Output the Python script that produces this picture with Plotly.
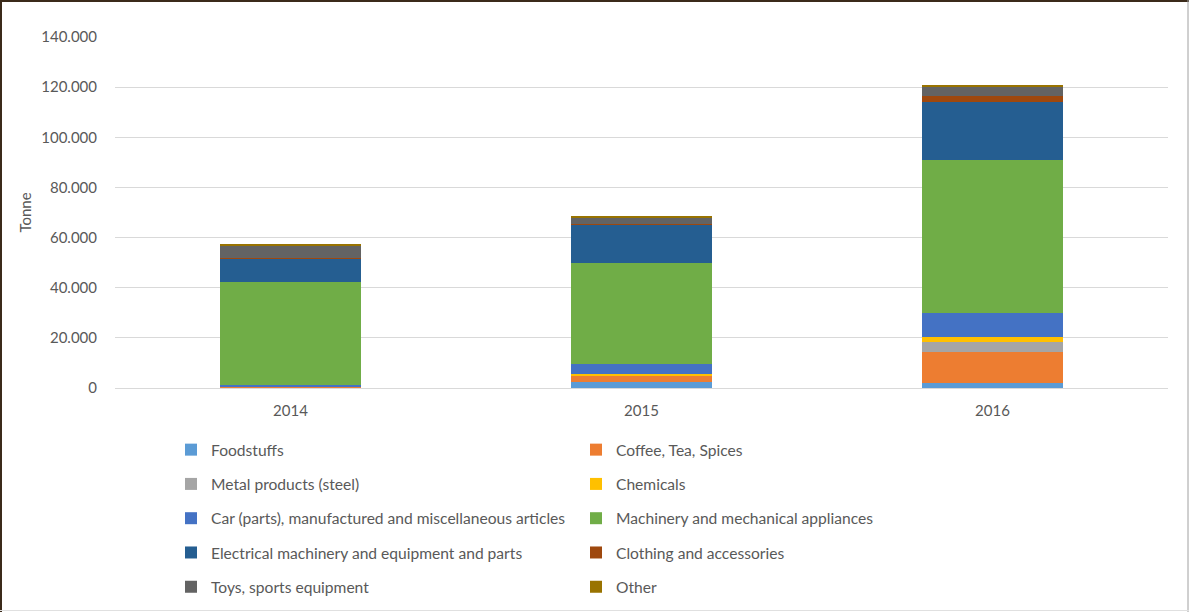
import plotly.graph_objects as go

years = ["2014", "2015", "2016"]
series_names = [
    "Foodstuffs", "Coffee, Tea, Spices", "Metal products (steel)", "Chemicals",
    "Car (parts), manufactured and miscellaneous articles",
    "Machinery and mechanical appliances",
    "Electrical machinery and equipment and parts",
    "Clothing and accessories", "Toys, sports equipment", "Other",
]
foodstuffs = [300, 2500, 1900]
coffee_tea_spices = [100, 2400, 12300]
metal_products = [100, 200, 4300]
chemicals = [100, 500, 1700]
car_parts = [500, 4000, 9600]
machinery = [41100, 40400, 61100]
electrical = [9500, 15400, 23300]
clothing = [100, 100, 2300]
toys = [5000, 2400, 3700]
other = [300, 700, 500]

values = [foodstuffs, coffee_tea_spices, metal_products, chemicals, car_parts,
          machinery, electrical, clothing, toys, other]
colors = ["#5B9BD5", "#ED7D31", "#A5A5A5", "#FFC000", "#4472C4",
          "#70AD47", "#255E91", "#9E480E", "#636363", "#997300"]

W, H = 1189, 612
L, R, T, B = 115, 21, 37, 224
pw, ph = W - L - R, H - T - B

def px(x):
    return (x - L) / pw

def py(y):
    return 1 - (y - T) / ph

fig = go.Figure()
for i, (name, vals, col) in enumerate(zip(series_names, values, colors)):
    fig.add_trace(go.Bar(
        x=years, y=vals, name=name, marker_color=col,
        marker_line_width=0,
        legend="legend" if i % 2 == 0 else "legend2",
        legendgroup=name,
    ))

font_fam = "Lato, 'Open Sans', sans-serif"
legend_common = dict(
    orientation="v", traceorder="grouped", tracegroupgap=11,
    font=dict(family=font_fam, size=15.6, color="#595959"),
    bgcolor="rgba(0,0,0,0)", xanchor="left", yanchor="top",
    itemclick=False, itemdoubleclick=False,
)

fig.update_layout(
    width=W, height=H,
    margin=dict(l=L, r=R, t=T, b=B, autoexpand=False),
    barmode="stack", bargap=0.6,
    plot_bgcolor="white", paper_bgcolor="white",
    separators=",.",
    font=dict(family=font_fam, size=15, color="#595959"),
    legend=dict(x=px(171), y=py(433), **legend_common),
    legend2=dict(x=px(576), y=py(433), **legend_common),
    xaxis=dict(showgrid=False, showline=False, ticks="",
               tickfont=dict(size=15, color="#595959"), ticklabelstandoff=12),
    yaxis=dict(range=[0, 140000], dtick=20000, tickformat=",d",
               gridcolor="#D9D9D9", gridwidth=1, zeroline=True,
               zerolinecolor="#D9D9D9", zerolinewidth=1,
               showline=False, ticks="", ticklabelstandoff=17,
               tickfont=dict(size=15, color="#595959"),
               title=dict(text="Tonne", standoff=6,
                          font=dict(size=15, color="#595959"))),
    shapes=[
        dict(type="line", xref="paper", yref="paper", x0=px(1), x1=px(1), y0=py(0), y1=py(612),
             line=dict(color="#3B2A1A", width=2)),
        dict(type="line", xref="paper", yref="paper", x0=px(0), x1=px(1189), y0=py(1), y1=py(1),
             line=dict(color="#3B2A1A", width=2)),
        dict(type="line", xref="paper", yref="paper", x0=px(1188), x1=px(1188), y0=py(0), y1=py(612),
             line=dict(color="#A0A0A0", width=1)),
        dict(type="line", xref="paper", yref="paper", x0=px(0), x1=px(1189), y0=py(610.5), y1=py(610.5),
             line=dict(color="#E0E0E0", width=1)),
    ],
)

fig.write_html("out.html", config={"displayModeBar": False},
               post_script="document.body.style.margin='0';document.body.style.overflow='hidden';")
